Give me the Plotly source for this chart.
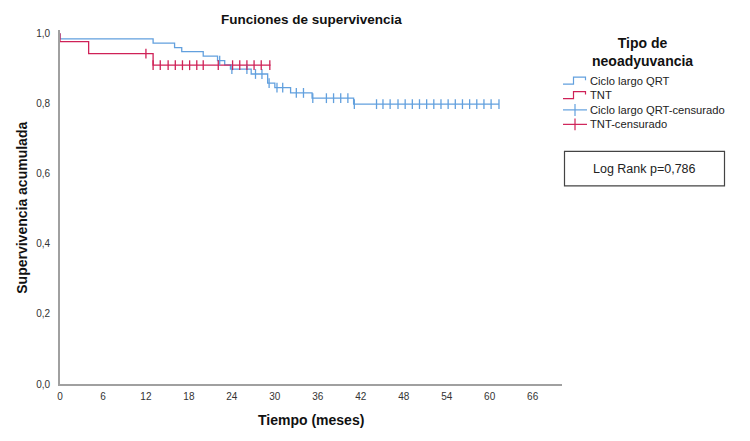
import plotly.graph_objects as go

# ---------------- data ----------------
qrt_times = [0, 0, 13.0, 16.0, 17.0, 20.0, 22.0, 23.0, 23.8, 26.7, 29.0, 30.0, 32.2, 35.2, 41.0, 61.3]
qrt_surv = [1.0, 0.984, 0.972, 0.959, 0.948, 0.935, 0.922, 0.910, 0.898, 0.884, 0.858, 0.845, 0.830, 0.815, 0.798, 0.798]
qrt_censored = [22.3, 24.0, 26.1, 27.3, 28.2, 29.2, 30.3, 31.1, 33.0, 34.0, 35.3, 37.2, 38.2, 39.2, 40.2, 41.1,
                44.2, 45.1, 46.1, 47.2, 48.2, 49.2, 50.2, 51.2, 52.2, 53.2, 54.2, 55.2, 56.2, 57.2, 58.2,
                59.2, 60.2, 61.3]

tnt_times = [0, 0, 4.0, 13.0, 29.4]
tnt_surv = [1.0, 0.976, 0.942, 0.909, 0.909]
tnt_censored = [12.0, 13.0, 14.0, 15.1, 16.1, 17.1, 18.1, 19.1, 20.0, 22.1, 24.1, 25.1, 26.1, 27.1, 28.1, 29.3]

x_ticks = [0, 6, 12, 18, 24, 30, 36, 42, 48, 54, 60, 66]
y_ticks = [0.0, 0.2, 0.4, 0.6, 0.8, 1.0]

series_names = ["Ciclo largo QRT", "TNT", "Ciclo largo QRT-censurado", "TNT-censurado"]
legend_title = "Tipo de<br>neoadyuvancia"
logrank_text = "Log Rank p=0,786"
chart_title = "Funciones de supervivencia"
x_title = "Tiempo (meses)"
y_title = "Supervivencia acumulada"

BLUE = "#62A0DE"
RED = "#CF2157"
FONT = "Liberation Sans, Arial, sans-serif"


def surv_at(t, times, surv):
    s = surv[0]
    for ti, si in zip(times, surv):
        if ti <= t:
            s = si
    return s


fig = go.Figure()
fig.add_trace(go.Scatter(x=qrt_times, y=qrt_surv, mode="lines", line=dict(color=BLUE, width=1.3, shape="hv"),
                         name=series_names[0], showlegend=False))
fig.add_trace(go.Scatter(x=tnt_times, y=tnt_surv, mode="lines", line=dict(color=RED, width=1.3, shape="hv"),
                         name=series_names[1], showlegend=False))
fig.add_trace(go.Scatter(x=qrt_censored, y=[surv_at(t, qrt_times, qrt_surv) for t in qrt_censored],
                         mode="markers",
                         marker=dict(symbol="line-ns-open", size=7, color=BLUE, line=dict(color=BLUE, width=1.3)),
                         name=series_names[2], showlegend=False))
fig.add_trace(go.Scatter(x=tnt_censored, y=[surv_at(t, tnt_times, tnt_surv) for t in tnt_censored],
                         mode="markers",
                         marker=dict(symbol="line-ns-open", size=7, color=RED, line=dict(color=RED, width=1.3)),
                         name=series_names[3], showlegend=False))

# plot-area geometry in pixels
W, H = 750, 441
L, R, T, B = 60, 562, 30, 384.5


def px(x):
    return (x - L) / (R - L)


def py(y):
    return (B - y) / (B - T)


shapes = []
annotations = []

# chart and axis titles
annotations.append(dict(text="<b>" + chart_title + "</b>", x=px(311), y=py(19), xref="paper", yref="paper",
                        xanchor="center", yanchor="middle", showarrow=False,
                        font=dict(family=FONT, size=13.5, color="#111")))
annotations.append(dict(text="<b>" + x_title + "</b>", x=px(311), y=py(421), xref="paper", yref="paper",
                        xanchor="center", yanchor="middle", showarrow=False,
                        font=dict(family=FONT, size=14, color="#111")))
annotations.append(dict(text="<b>" + y_title + "</b>", x=px(22), y=py(208), xref="paper", yref="paper",
                        xanchor="center", yanchor="middle", showarrow=False, textangle=-90,
                        font=dict(family=FONT, size=14, color="#111")))

# legend title
annotations.append(dict(text="<b>" + legend_title + "</b>", x=px(642), y=py(52), xref="paper", yref="paper",
                        xanchor="center", yanchor="middle", showarrow=False,
                        font=dict(family=FONT, size=14, color="#111")))

rows = [80.7, 95.2, 110, 124.5]
colors = [BLUE, RED, BLUE, RED]
for i, (name, yrow, col) in enumerate(zip(series_names, rows, colors)):
    annotations.append(dict(text=name, x=px(588), y=py(yrow), xref="paper", yref="paper",
                            xanchor="left", yanchor="middle", showarrow=False,
                            font=dict(family=FONT, size=11.2, color="#222")))
    if i < 2:
        path = "M {} {} L {} {} L {} {} L {} {} L {} {}".format(
            px(563), py(yrow + 3.5), px(573.5), py(yrow + 3.5), px(573.5), py(yrow - 3.5),
            px(585.5), py(yrow - 3.5), px(585.5), py(yrow - 0.5))
        shapes.append(dict(type="path", path=path, xref="paper", yref="paper", line=dict(color=col, width=1.2)))
    else:
        shapes.append(dict(type="line", x0=px(563), x1=px(587), y0=py(yrow), y1=py(yrow), xref="paper",
                           yref="paper", line=dict(color=col, width=1.2)))
        shapes.append(dict(type="line", x0=px(575), x1=px(575), y0=py(yrow - 6), y1=py(yrow + 6), xref="paper",
                           yref="paper", line=dict(color=col, width=1.2)))

# log-rank box
shapes.append(dict(type="rect", x0=px(564.5), x1=px(724.5), y0=py(186), y1=py(151.5), xref="paper", yref="paper",
                   line=dict(color="#444", width=1.2), fillcolor="rgba(0,0,0,0)"))
annotations.append(dict(text=logrank_text, x=px(644.5), y=py(169.5), xref="paper", yref="paper",
                        xanchor="center", yanchor="middle", showarrow=False,
                        font=dict(family=FONT, size=12.5, color="#222")))

fig.update_layout(
    width=W, height=H,
    margin=dict(l=L, r=W - R, t=T, b=H - B, autoexpand=False),
    paper_bgcolor="white", plot_bgcolor="white",
    separators=", ",
    font=dict(family=FONT, color="#222"),
    shapes=shapes, annotations=annotations,
    showlegend=False,
)
fig.update_xaxes(range=[0, 70.1], tickvals=x_ticks, ticktext=[str(v) for v in x_ticks], automargin=False,
                 showgrid=False, zeroline=False, showline=True, linecolor="#a0a0a0", linewidth=1.6,
                 ticks="outside", ticklen=2, tickcolor="rgba(0,0,0,0)",
                 tickfont=dict(family=FONT, size=10, color="#333"))
fig.update_yaxes(range=[0, 1.0094], tickvals=y_ticks, tickformat=".1f", automargin=False,
                 showgrid=False, zeroline=False, showline=True, linecolor="#a0a0a0", linewidth=1.6,
                 ticks="outside", ticklen=6, tickcolor="rgba(0,0,0,0)",
                 tickfont=dict(family=FONT, size=10, color="#333"))

fig.write_html("out.html", config={"displayModeBar": False},
               post_script="document.body.style.margin='0px';document.body.style.overflow='hidden';")
